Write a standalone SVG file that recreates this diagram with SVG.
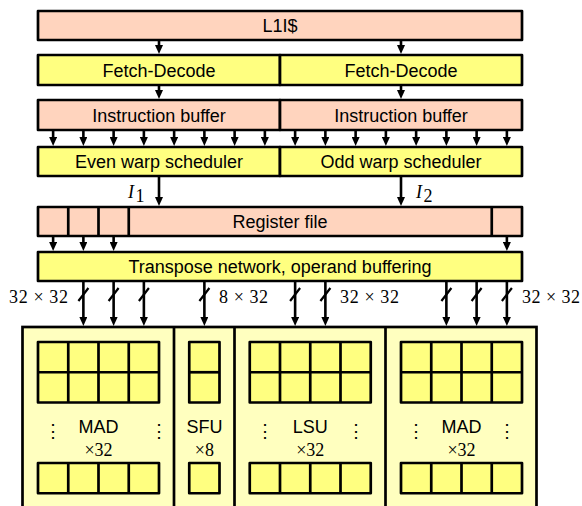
<svg xmlns="http://www.w3.org/2000/svg" width="582" height="506" viewBox="0 0 582 506">
<defs>
<marker id="ah" viewBox="0 0 9 8" markerWidth="9" markerHeight="8" refX="3" refY="4" orient="auto" markerUnits="userSpaceOnUse">
<path d="M0,0 L9,4 L0,8 z" fill="#000"/>
</marker>
<style>
.peach{fill:#FFD4BE;stroke:#000;stroke-width:2.7;stroke-linejoin:round}
.yel{fill:#FFFF80;stroke:#000;stroke-width:2.7;stroke-linejoin:round}
.cont{fill:#FFFFBF;stroke:#000;stroke-width:2.7}
.div{stroke:#000;stroke-width:2.7;fill:none}
.lbl{font-family:"Liberation Sans",Arial,sans-serif;font-size:18px;text-anchor:middle;fill:#000}
.math{font-family:"Liberation Serif","Times New Roman",serif;font-size:18px;fill:#000}
.dots{font-family:"DejaVu Serif",serif;font-size:18px;text-anchor:middle;fill:#000}
.arr{stroke:#000;stroke-width:2.6;fill:none;marker-end:url(#ah)}
.sl{stroke:#000;stroke-width:2.2;fill:none}
</style>
</defs>

<g id="l1i">
<rect class="peach" x="38" y="11" width="484" height="29"/>
<text class="lbl" x="280" y="32">L1I$</text>
</g>

<g id="fetch-decode-even">
<rect class="yel" x="38" y="55" width="242" height="30"/>
<text class="lbl" x="159" y="76.5">Fetch-Decode</text>
</g>
<g id="fetch-decode-odd">
<rect class="yel" x="280" y="55" width="242" height="30"/>
<text class="lbl" x="401" y="76.5">Fetch-Decode</text>
</g>

<g id="ibuf-even">
<rect class="peach" x="38" y="100" width="242" height="30"/>
<text class="lbl" x="159" y="121.5">Instruction buffer</text>
</g>
<g id="ibuf-odd">
<rect class="peach" x="280" y="100" width="242" height="30"/>
<text class="lbl" x="401" y="121.5">Instruction buffer</text>
</g>

<g id="sched-even">
<rect class="yel" x="38" y="147" width="242" height="29"/>
<text class="lbl" x="159" y="168">Even warp scheduler</text>
</g>
<g id="sched-odd">
<rect class="yel" x="280" y="147" width="242" height="29"/>
<text class="lbl" x="401" y="168">Odd warp scheduler</text>
</g>

<g id="regfile">
<rect class="peach" x="38" y="207" width="484" height="29"/>
<path class="div" d="M68.25,207V236M98.5,207V236M128.75,207V236M491.75,207V236"/>
<text class="lbl" x="280" y="228">Register file</text>
</g>

<g id="transpose">
<rect class="yel" x="38" y="252" width="484" height="29"/>
<text class="lbl" x="280" y="273">Transpose network, operand buffering</text>
</g>

<g id="units">
<rect class="cont" x="22.5" y="327" width="514" height="200"/>
<path class="div" d="M174,327V520M234.5,327V520M385.5,327V520"/>
</g>

<g id="mad-left">
<rect class="yel" x="38" y="342" width="121" height="60.5"/>
<path class="div" d="M38,372.25H159M68.25,342V402.5M98.5,342V402.5M128.75,342V402.5"/>
<rect class="yel" x="38" y="463" width="121" height="30.25"/>
<path class="div" d="M68.25,463V493.25M98.5,463V493.25M128.75,463V493.25"/>
<text class="lbl" x="98.5" y="433">MAD</text>
<text class="math" x="98.5" y="456" text-anchor="middle">×32</text>
<text class="dots" x="52.5" y="437">⋮</text>
<text class="dots" x="159" y="437">⋮</text>
</g>

<g id="sfu">
<rect class="yel" x="189.25" y="342" width="30.25" height="60.5"/>
<path class="div" d="M189.25,372.25H219.5"/>
<rect class="yel" x="189.25" y="463" width="30.25" height="30.25"/>
<text class="lbl" x="204.4" y="433">SFU</text>
<text class="math" x="204.4" y="456" text-anchor="middle">×8</text>
</g>

<g id="lsu">
<rect class="yel" x="249.75" y="342" width="121" height="60.5"/>
<path class="div" d="M249.75,372.25H370.75M280,342V402.5M310.25,342V402.5M340.5,342V402.5"/>
<rect class="yel" x="249.75" y="463" width="121" height="30.25"/>
<path class="div" d="M280,463V493.25M310.25,463V493.25M340.5,463V493.25"/>
<text class="lbl" x="310.25" y="433">LSU</text>
<text class="math" x="310.25" y="456" text-anchor="middle">×32</text>
<text class="dots" x="264.8" y="437">⋮</text>
<text class="dots" x="355.5" y="437">⋮</text>
</g>

<g id="mad-right">
<rect class="yel" x="401" y="342" width="121" height="60.5"/>
<path class="div" d="M401,372.25H522M431.25,342V402.5M461.5,342V402.5M491.75,342V402.5"/>
<rect class="yel" x="401" y="463" width="121" height="30.25"/>
<path class="div" d="M431.25,463V493.25M461.5,463V493.25M491.75,463V493.25"/>
<text class="lbl" x="461.5" y="433">MAD</text>
<text class="math" x="461.5" y="456" text-anchor="middle">×32</text>
<text class="dots" x="416" y="437">⋮</text>
<text class="dots" x="506.8" y="437">⋮</text>
</g>

<g id="connectors">
<path class="arr" d="M159,40V48"/>
<path class="arr" d="M401,40V48"/>
<path class="arr" d="M159,85V93"/>
<path class="arr" d="M401,85V93"/>
<path class="arr" d="M53.125,130V140"/>
<path class="arr" d="M83.375,130V140"/>
<path class="arr" d="M113.625,130V140"/>
<path class="arr" d="M143.875,130V140"/>
<path class="arr" d="M174.125,130V140"/>
<path class="arr" d="M204.375,130V140"/>
<path class="arr" d="M234.625,130V140"/>
<path class="arr" d="M264.875,130V140"/>
<path class="arr" d="M295.125,130V140"/>
<path class="arr" d="M325.375,130V140"/>
<path class="arr" d="M355.625,130V140"/>
<path class="arr" d="M385.875,130V140"/>
<path class="arr" d="M416.125,130V140"/>
<path class="arr" d="M446.375,130V140"/>
<path class="arr" d="M476.625,130V140"/>
<path class="arr" d="M506.875,130V140"/>
<path class="arr" d="M159,176V200"/>
<path class="arr" d="M401,176V200"/>
<path class="arr" d="M53.125,236V245"/>
<path class="arr" d="M83.375,236V245"/>
<path class="arr" d="M113.625,236V245"/>
<path class="arr" d="M506.875,236V245"/>
<path class="arr" d="M83.375,281V320"/>
<path class="arr" d="M113.625,281V320"/>
<path class="arr" d="M143.875,281V320"/>
<path class="arr" d="M204.375,281V320"/>
<path class="arr" d="M295.125,281V320"/>
<path class="arr" d="M325.375,281V320"/>
<path class="arr" d="M446.375,281V320"/>
<path class="arr" d="M476.625,281V320"/>
<path class="arr" d="M506.875,281V320"/>
<path class="sl" d="M78.4,301L88.4,288M108.6,301L118.6,288M138.9,301L148.9,288M199.4,301L209.4,288M290.1,301L300.1,288M320.4,301L330.4,288M441.4,301L451.4,288M471.6,301L481.6,288M501.9,301L511.9,288"/>
<text class="math" x="128" y="198" font-style="italic" font-size="19">I</text>
<text class="math" x="135.5" y="202" font-size="12">1</text>
<text class="math" x="416" y="198" font-style="italic" font-size="19">I</text>
<text class="math" x="423.5" y="202" font-size="12">2</text>
<text class="math" x="9" y="303" textLength="59" lengthAdjust="spacing">32 × 32</text>
<text class="math" x="219" y="303" textLength="49" lengthAdjust="spacing">8 × 32</text>
<text class="math" x="340" y="303" textLength="59" lengthAdjust="spacing">32 × 32</text>
<text class="math" x="522" y="303" textLength="58" lengthAdjust="spacing">32 × 32</text>
</g>
</svg>
